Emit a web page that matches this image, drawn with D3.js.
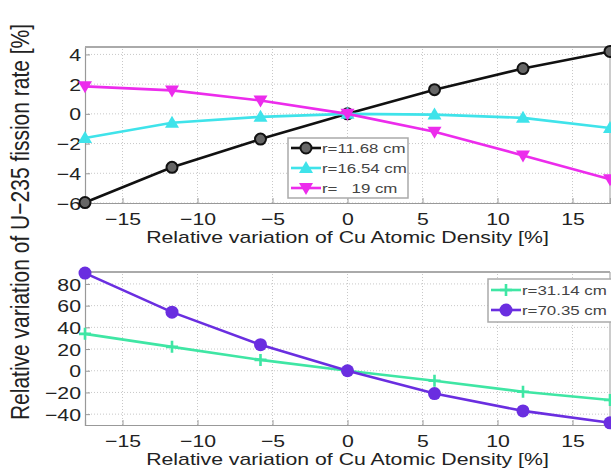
<!DOCTYPE html>
<html>
<head>
<meta charset="utf-8">
<script src="https://cdnjs.cloudflare.com/ajax/libs/d3/7.8.5/d3.min.js"></script>
<style>
  body { margin: 0; background: #fff; }
  text { font-family: "Liberation Sans", Arial, sans-serif; }
</style>
</head>
<body>
<div id="chart"></div>
<script>
// x positions (relative variation of Cu atomic density, %)
var xValues = [-17.5, -11.7, -5.8, 0, 5.8, 11.7, 17.5];

// top panel series
var r1168 = [-5.97, -3.6, -1.7, 0, 1.63, 3.05, 4.2];
var r1654 = [-1.63, -0.6, -0.2, 0, -0.05, -0.27, -0.95];
var r19 = [1.85, 1.58, 0.9, 0, -1.2, -2.8, -4.4];

// bottom panel series
var r3114 = [34, 22, 10, 0, -9.2, -19.4, -27];
var r7035 = [90, 54, 24, 0, -21, -37, -48];

var xTicks = [-15, -10, -5, 0, 5, 10, 15];
var yTicksTop = [-6, -4, -2, 0, 2, 4];
var yTicksBottom = [-40, -20, 0, 20, 40, 60, 80];

var topLegend = ["r=11.68 cm", "r=16.54 cm", "r=   19 cm"];
var bottomLegend = ["r=31.14 cm", "r=70.35 cm"];

var width = 611, height = 473;
var stretch = 1.25; // the picture is wider than tall, text looks stretched

var svg = d3.select("#chart")
  .append("svg")
  .attr("width", width)
  .attr("height", height);

var x = d3.scaleLinear().domain([-17.5, 17.5]).range([85, 610]);

// draw one panel
function panel(y, yTicks, series, legendInfo) {
  var g = svg.append("g");
  var y0 = y.range()[0], y1 = y.range()[1];

  g.append("rect")
    .attr("x", x.range()[0]).attr("y", y1)
    .attr("width", x.range()[1] - x.range()[0]).attr("height", y0 - y1)
    .attr("fill", "#fff");

  // grid
  g.selectAll(".vg").data(xTicks).enter().append("line")
    .attr("x1", function (d) { return x(d); }).attr("x2", function (d) { return x(d); })
    .attr("y1", y0).attr("y2", y1)
    .attr("stroke", "#c8c8c8").attr("stroke-dasharray", "1,2");
  g.selectAll(".hg").data(yTicks).enter().append("line")
    .attr("x1", x.range()[0]).attr("x2", x.range()[1])
    .attr("y1", function (d) { return y(d); }).attr("y2", function (d) { return y(d); })
    .attr("stroke", "#c8c8c8").attr("stroke-dasharray", "1,2");

  // axes
  var ax = g.append("g")
    .attr("transform", "translate(0," + y0 + ")")
    .call(d3.axisBottom(x).tickValues(xTicks).tickSize(-5).tickPadding(10).tickFormat(d3.format("")));
  var ay = g.append("g")
    .attr("transform", "translate(" + x.range()[0] + ",0)")
    .call(d3.axisLeft(y).tickValues(yTicks).tickSize(-5).tickPadding(4).tickFormat(d3.format("")));
  [ax, ay].forEach(function (a) {
    a.select(".domain").attr("stroke", "#999").attr("stroke-width", 1.2);
    a.selectAll(".tick line").attr("stroke", "#999");
    a.selectAll(".tick text")
      .attr("fill", "#222")
      .style("font-size", "17px");
  });
  ax.selectAll(".tick text").attr("transform", "scale(" + stretch + ",1)");
  ay.selectAll(".tick text").attr("dy", "0.36em").attr("transform", "scale(" + stretch + ",1)")
    .attr("x", -4 / stretch);

  // top and right border
  g.append("line").attr("x1", x.range()[0]).attr("x2", x.range()[1])
    .attr("y1", y1).attr("y2", y1).attr("stroke", "#aaa").attr("stroke-width", 2);
  g.append("line").attr("x1", x.range()[1]).attr("x2", x.range()[1])
    .attr("y1", y1).attr("y2", y0).attr("stroke", "#aaa").attr("stroke-width", 1.2);

  // lines and markers
  series.forEach(function (s) {
    var pts = xValues.map(function (v, i) { return [x(v), y(s.values[i])]; });
    g.append("path")
      .attr("d", d3.line()(pts))
      .attr("fill", "none")
      .attr("stroke", s.color)
      .attr("stroke-width", 2.6);
    pts.forEach(function (p) { marker(g, s, p[0], p[1], 1); });
  });

  // x label
  g.append("text")
    .attr("transform", "translate(" + ((x.range()[0] + x.range()[1]) / 2) + "," + (y0 + 40) + ") scale(" + stretch + ",1)")
    .attr("text-anchor", "middle")
    .attr("fill", "#222")
    .style("font-size", "17px")
    .text("Relative variation of Cu Atomic Density [%]");

  // legend
  var lg = g.append("g");
  lg.append("rect")
    .attr("x", legendInfo.x).attr("y", legendInfo.y)
    .attr("width", legendInfo.w).attr("height", legendInfo.h)
    .attr("fill", "#fff").attr("stroke", "#aaa").attr("stroke-width", 1.5);
  series.forEach(function (s, i) {
    var ly = legendInfo.y + legendInfo.pad + i * legendInfo.step;
    lg.append("line")
      .attr("x1", legendInfo.x + 3).attr("x2", legendInfo.x + 33)
      .attr("y1", ly).attr("y2", ly)
      .attr("stroke", s.color).attr("stroke-width", 2.6);
    marker(lg, s, legendInfo.x + 18, ly, 1);
    lg.append("text")
      .attr("transform", "translate(" + (legendInfo.x + 34) + "," + (ly + 5) + ") scale(" + stretch + ",1)")
      .attr("fill", "#444")
      .style("font-size", "13.5px")
      .style("white-space", "pre")
      .attr("xml:space", "preserve")
      .text(s.name);
  });
}

function marker(g, s, px, py, k) {
  if (s.shape === "circle") {
    g.append("circle").attr("cx", px).attr("cy", py).attr("r", 5.5 * k)
      .attr("fill", s.fill).attr("stroke", s.color).attr("stroke-width", 2);
  } else if (s.shape === "dot") {
    g.append("circle").attr("cx", px).attr("cy", py).attr("r", 6.5 * k)
      .attr("fill", s.color);
  } else if (s.shape === "up") {
    g.append("path").attr("transform", "translate(" + px + "," + py + ")")
      .attr("d", "M0,-7L7,5L-7,5Z").attr("fill", s.color);
  } else if (s.shape === "down") {
    g.append("path").attr("transform", "translate(" + px + "," + py + ")")
      .attr("d", "M0,7L7,-5L-7,-5Z").attr("fill", s.color);
  } else if (s.shape === "plus") {
    g.append("path").attr("transform", "translate(" + px + "," + py + ")")
      .attr("d", "M-6,0H6M0,-6V6").attr("stroke", s.color).attr("stroke-width", 2.6);
  }
}

var yTop = d3.scaleLinear().domain([-6, 4.5]).range([203, 47]);
var yBottom = d3.scaleLinear().domain([-50, 91]).range([425, 272]);

panel(yTop, yTicksTop, [
  { name: topLegend[0], values: r1168, color: "#111", fill: "#666", shape: "circle" },
  { name: topLegend[1], values: r1654, color: "#3fe3ea", shape: "up" },
  { name: topLegend[2], values: r19, color: "#ec2cec", shape: "down" }
], { x: 288, y: 138, w: 120, h: 60, pad: 10, step: 20 });

panel(yBottom, yTicksBottom, [
  { name: bottomLegend[0], values: r3114, color: "#3fe6a4", shape: "plus" },
  { name: bottomLegend[1], values: r7035, color: "#6a2ee0", shape: "dot" }
], { x: 488, y: 279, w: 125, h: 43, pad: 11, step: 20 });

// shared y label
svg.append("text")
  .attr("transform", "translate(29,222) rotate(-90) scale(1," + stretch + ")")
  .attr("text-anchor", "middle")
  .attr("fill", "#222")
  .style("font-size", "21px")
  .text("Relative variation of U\u2212235 fission rate [%]");
</script>
</body>
</html>
